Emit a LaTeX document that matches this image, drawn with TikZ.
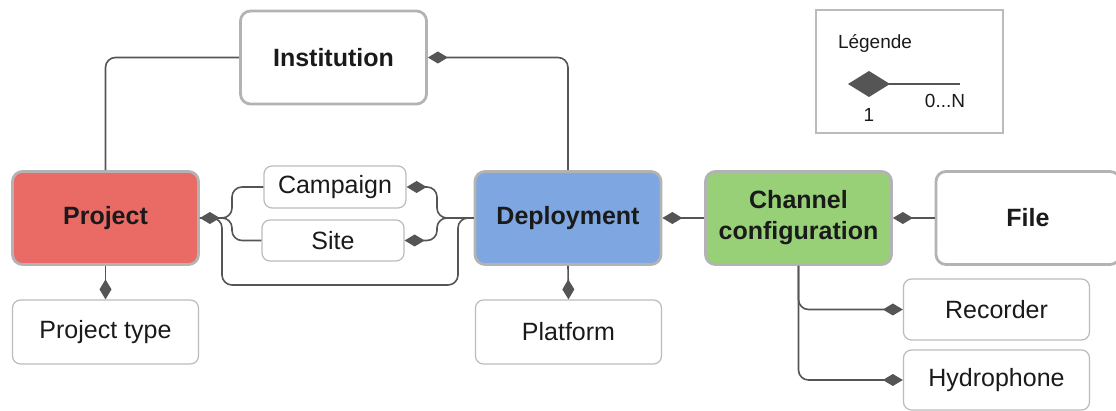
\documentclass[tikz,border=0pt]{standalone}
\usepackage{fontspec}
\setmainfont{Liberation Sans}
\usetikzlibrary{arrows.meta}
\usetikzlibrary{positioning}

\definecolor{projred}{HTML}{EA6B66}
\definecolor{depblue}{HTML}{7EA6E0}
\definecolor{changreen}{HTML}{97D077}
\definecolor{boxgray}{HTML}{B3B3B3}
\definecolor{linkgray}{HTML}{555555}
\definecolor{txt}{HTML}{1A1A1A}

\tikzset{
    mainbox/.style={draw=boxgray, line width=1.4pt, rounded corners=5pt, align=center,
        text=txt, font=\fontsize{12.5}{15.5}\selectfont\bfseries,
        minimum width=93pt, minimum height=46.5pt, inner sep=0pt},
    subbox/.style={draw=boxgray!90, line width=0.6pt, rounded corners=4pt, align=center,
        text=txt, font=\fontsize{12.5}{15}\selectfont,
        minimum width=93pt, inner sep=0pt},
    link/.style={draw=linkgray, line width=0.8pt, rounded corners=5pt},
    dia/.tip={Diamond[length=10pt, width=6pt]},
    bigdia/.tip={Diamond[length=21pt, width=13pt]},
}

\begin{document}
\begin{tikzpicture}[x=0.5pt, y=-0.5pt]
                \useasboundingbox (0, 0) rectangle (1116, 411);

                % main entities
                \node[mainbox] (inst) at (333.5, 57.5){Institution};
                \node[mainbox, fill=projred] (proj) at (105.5, 218){Project};
                \node[mainbox, fill=depblue] (dep) at (568, 218){Deployment};
                \node[mainbox, fill=changreen] (chan) at (798.5, 218){Channel\\configuration};
                \node[mainbox, minimum width=92pt] (file) at (1028, 218){File};

                % secondary entities
                \node[subbox, minimum width=71pt, minimum height=21pt] (camp) at (335, 187){Campaign};
                \node[subbox, minimum width=71pt, minimum height=20.5pt] (site) at (333, 240.5){Site};
                \node[subbox, minimum height=32pt] (ptype) at (105.5, 332){Project type};
                \node[subbox, minimum height=32pt] (plat) at (568.5, 332){Platform};
                \node[subbox, minimum height=30.5pt] (rec) at (996.5, 309.5){Recorder};
                \node[subbox, minimum height=30pt] (hyd) at (996.5, 380){Hydrophone};

                % bend points
                \coordinate (jl) at (232, 218);
                \coordinate (lb) at (222, 285);
                \coordinate (rb) at (458, 218);
                \coordinate (rc) at (437, 218);

                % connectors
                \draw[link] (proj.north) |- (inst.west);
                \draw[link, dia-] (inst.east) -| (dep.north);
                \draw[link, dia-] (proj.east) -- (jl) |- (camp.west);
                \draw[link] (proj.east) -- (jl) |- (site.west);
                \draw[link] (proj.east) -| (lb) -| (rb) -- (dep.west);
                \draw[link, dia-] (camp.east) -| (rc) -- (dep.west);
                \draw[link, dia-] (site.east) -| (rc) -- (dep.west);
                \draw[link, -dia] (proj.south) -- (ptype.north);
                \draw[link, -dia] (dep.south) -- (plat.north);
                \draw[link, dia-] (dep.east) -- (chan.west);
                \draw[link, dia-] (chan.east) -- (file.west);
                \draw[link, -dia] (chan.south) |- (rec.west);
                \draw[link, -dia] (chan.south) |- (hyd.west);

                % legend
                \node[draw=boxgray!90, line width=0.6pt, minimum width=93.5pt, minimum height=61.5pt] (leg) at (909.5, 71.5){};
                \node[text=txt, font=\fontsize{9.5}{11}\selectfont] (legtitle) at (875, 43){Légende};
                \coordinate (lga) at (848, 84);
                \coordinate (lgb) at (960, 84);
                \draw[draw=linkgray, line width=1.3pt, bigdia-] (lga) -- (lgb);
                \node[text=txt, font=\fontsize{9.5}{11}\selectfont] (legone) at (869, 115){1};
                \node[text=txt, font=\fontsize{9.5}{11}\selectfont] (legmany) at (945, 101){0...N};
            \end{tikzpicture}
\end{document}
